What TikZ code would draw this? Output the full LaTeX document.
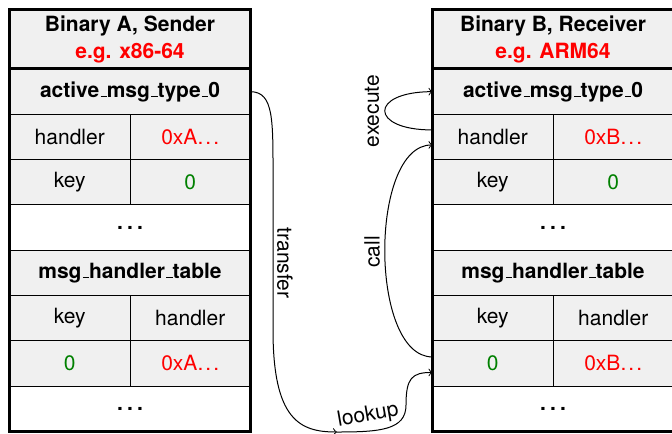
\documentclass[tikz,border=0pt]{standalone}
\usepackage{fontspec}
\setmainfont{TeX Gyre Heros}
\definecolor{cellgray}{HTML}{F0F0F0}
\definecolor{addr}{HTML}{FF0000}
\definecolor{keyval}{HTML}{008000}
% classic LaTeX-style underscore rule and spaced dots
\newcommand\us{\leavevmode\kern.06em\vbox{\hrule width.3em}}
\newcommand\sdots{.\kern.1em.\kern.1em.}
\newcommand\gapdots{\bfseries.\kern.2em.\kern.2em.}
\newcommand\basefont{\fontsize{10.5}{13.5}\selectfont}
\tikzset{
  cell/.style={draw, line width=0.5pt, fill=cellgray, inner sep=0pt, outer sep=0pt,
    minimum height=22.65pt, font=\basefont},
  wide/.style={cell, minimum width=120.5pt},
  half/.style={cell, minimum width=60.25pt},
  gap/.style={wide, fill=white},
  hdrcell/.style={cell, minimum width=120.5pt, minimum height=29.75pt, align=center,
    font=\basefont\bfseries},
  frame/.style={draw, line width=1.5pt},
  link/.style={draw, line width=0.5pt, ->},
  lbl/.style={font=\basefont, inner sep=0pt}
}
% one binary's memory layout: #1 prefix, #2 centre x, #3 title, #4 architecture, #5 address
\newcommand\membox[5]{%
  \node[hdrcell] (#1-hdr) at (#2,39.25) {#3\\\textcolor{addr}{#4}};
  \node[wide, font=\basefont\bfseries] (#1-amt) at (#2,91.65) {active\us msg\us type\us 0};
  \node[half] (#1-h1) at ({#2-60.25},136.95) {handler};
  \node[half, text=addr] (#1-h2) at ({#2+60.25},136.95) {#5};
  \node[half] (#1-k1) at ({#2-60.25},182.25) {key};
  \node[half, text=keyval] (#1-k2) at ({#2+60.25},182.25) {0};
  \node[gap] (#1-gap1) at (#2,227.55) {\gapdots};
  \node[wide, font=\basefont\bfseries] (#1-tbl) at (#2,272.85) {msg\us handler\us table};
  \node[half] (#1-c1) at ({#2-60.25},318.15) {key};
  \node[half] (#1-c2) at ({#2+60.25},318.15) {handler};
  \node[half, text=keyval] (#1-z) at ({#2-60.25},363.45) {0};
  \node[half, text=addr] (#1-za) at ({#2+60.25},363.45) {#5};
  \node[gap] (#1-gap2) at (#2,408.75) {\gapdots};
  \draw[frame] (#1-hdr.north west) rectangle (#1-gap2.south east);
  \draw[frame] (#1-hdr.south west) -- (#1-hdr.south east);
}
\begin{document}
\begin{tikzpicture}[x=0.5pt, y=-0.5pt]
  \useasboundingbox (0,0) rectangle (672,433);

  \membox{A}{130}{Binary A, Sender}{e.g. x86-64}{0xA\sdots}
  \membox{B}{553}{Binary B, Receiver}{e.g. ARM64}{0xB\sdots}

  % message transfer down to the lookup point
  \coordinate (drop) at (337,432);
  \draw[link] (A-amt.east) .. controls (274,92) and (273,120) .. (273,180)
    -- (273,330) .. controls (273,420) and (300,432) .. (drop);
  \node[lbl, rotate=-90] (ttransfer) at (285,263) {transfer};

  % lookup of the handler by key
  \draw[link] (drop) .. controls (380,432) and (406,430) .. (406,405)
    .. controls (406,378) and (412,372.45) .. ([yshift=-4.5pt]B-z.west);
  \node[lbl, rotate=10] (tlookup) at (368,416) {lookup};

  % call the handler found in the table
  \draw[link] ([yshift=3.25pt]B-z.west) .. controls (369,357) and (369,145) .. ([yshift=-4pt]B-h1.west);
  \node[lbl, rotate=90] (tcall) at (372,252) {call};

  % execute the active message
  \draw[link] ([yshift=3.5pt]B-h1.west) .. controls (369,130) and (369,92) .. (B-amt.west);
  \node[lbl, rotate=90] (texecute) at (372,111) {execute};
\end{tikzpicture}
\end{document}
